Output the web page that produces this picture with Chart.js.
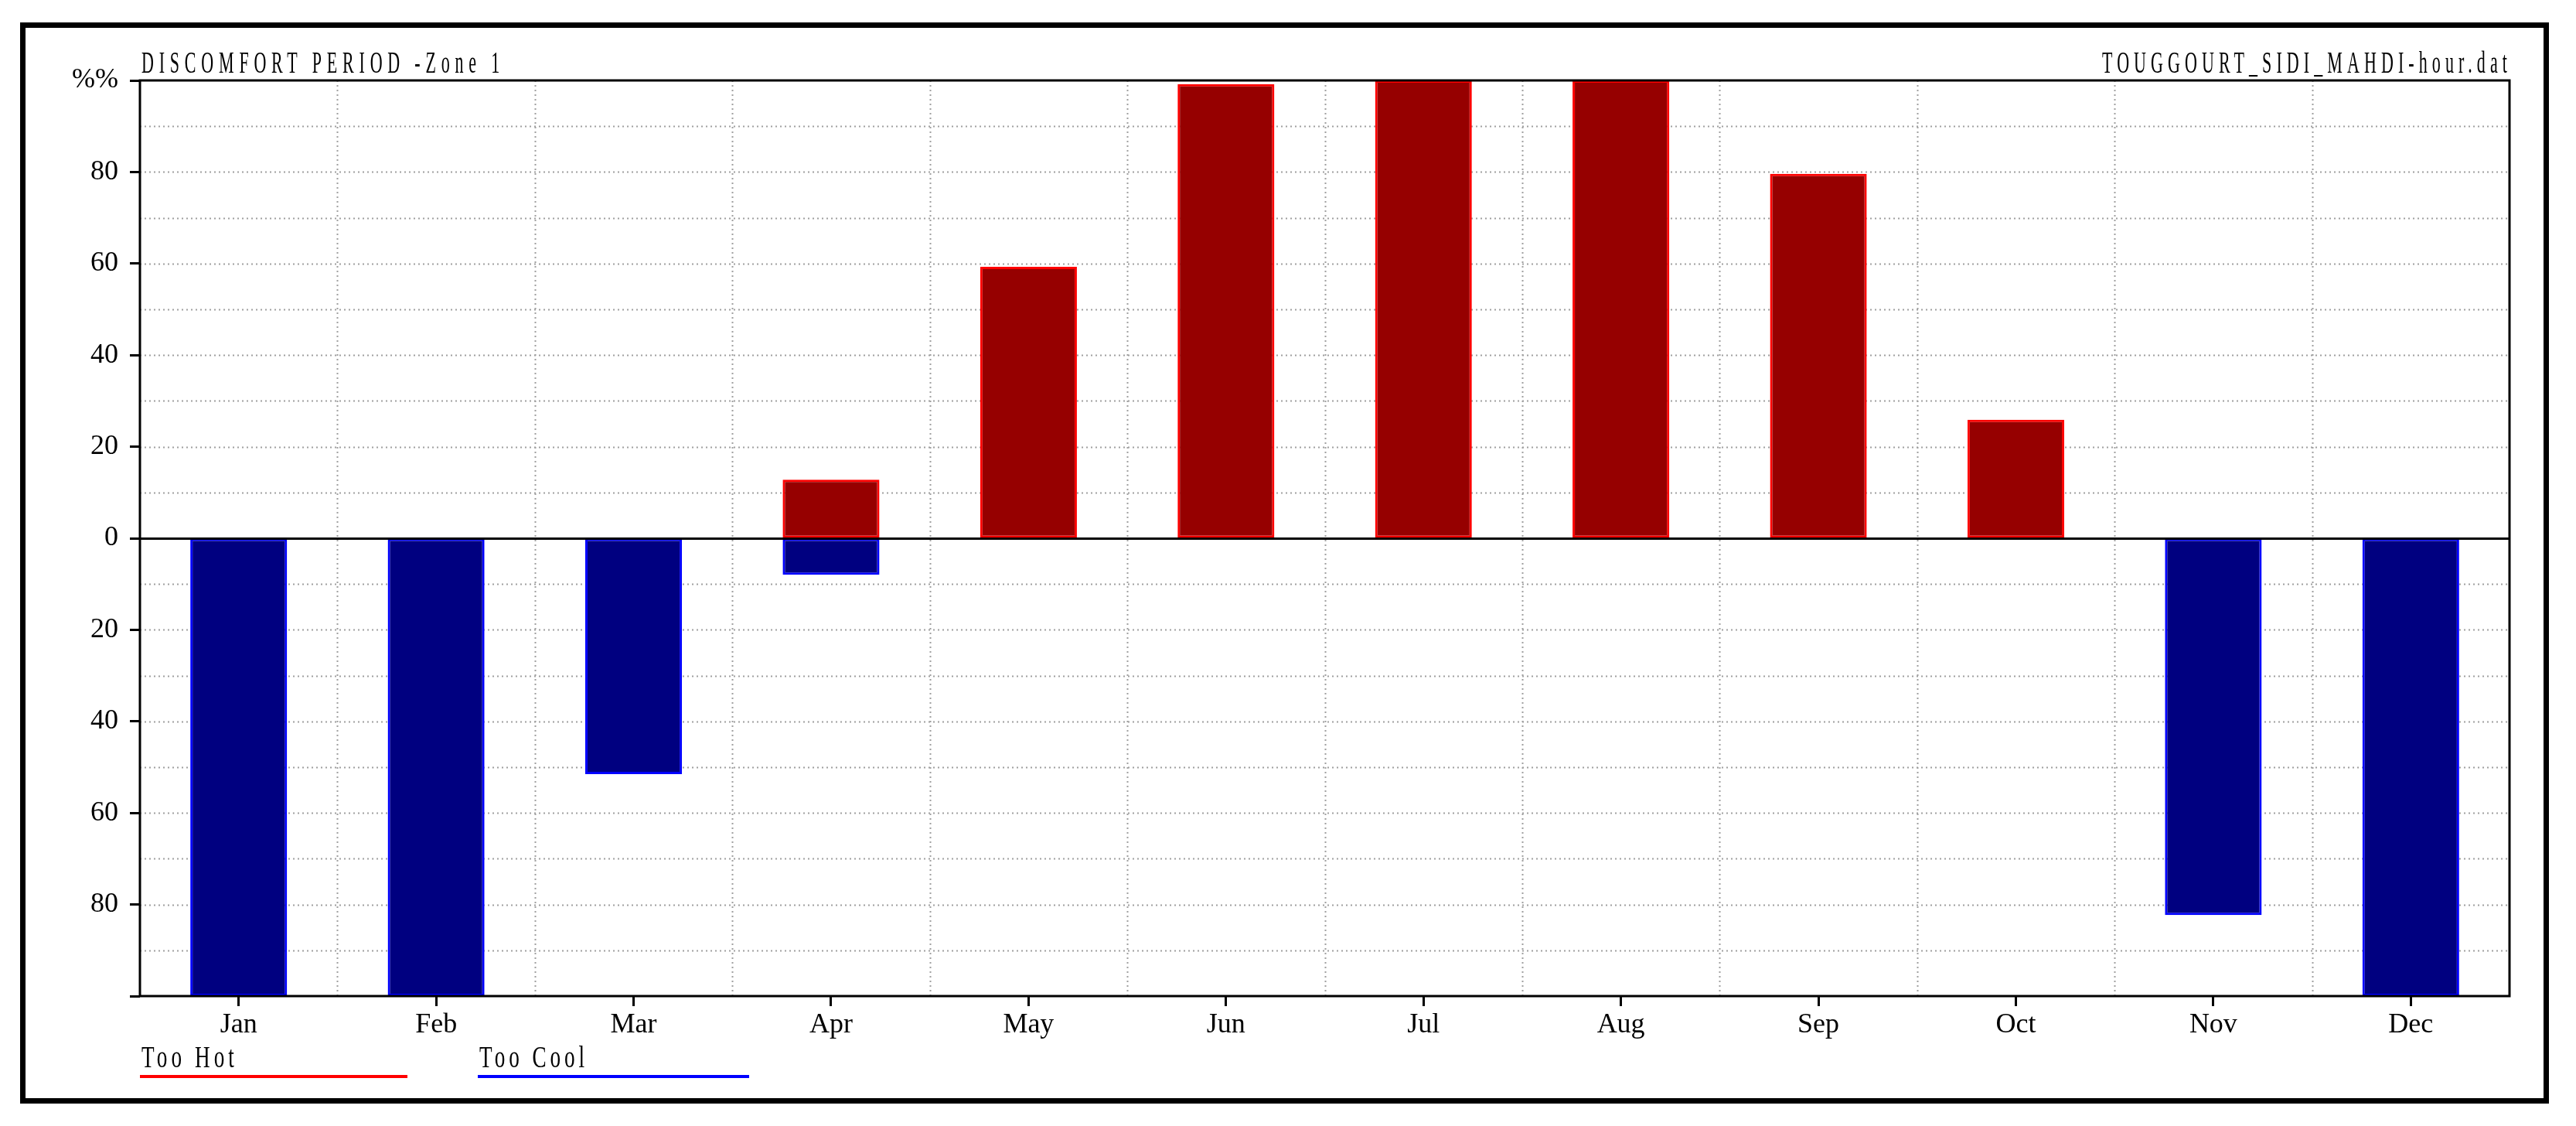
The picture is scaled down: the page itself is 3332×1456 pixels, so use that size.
<!DOCTYPE html>
<html>
<head>
<meta charset="utf-8">
<script src="https://cdn.jsdelivr.net/npm/chart.js@4/dist/chart.umd.min.js"></script>
<style>
  html, body { margin: 0; padding: 0; background: #fff; }
  canvas { display: block; }
</style>
</head>
<body>
<canvas id="c" width="3332" height="1456"></canvas>
<script>
// data (percent of hours)
const months = ['Jan','Feb','Mar','Apr','May','Jun','Jul','Aug','Sep','Oct','Nov','Dec'];
const tooHot = [null, null, null, 12.8, 59.3, 99.2, 100, 100, 79.6, 25.9, null, null];
const tooCool = [-100, -100, -51.5, -8, null, null, null, null, null, null, -82.3, -100];
const titleLeft = 'DISCOMFORT PERIOD -Zone 1';
const titleRight = 'TOUGGOURT_SIDI_MAHDI-hour.dat';

const FONT = 'Liberation Serif';

// draw condensed, spaced-out text fitted to a given width
function spacedText(ctx, text, x, y, width, size, sx, align) {
    ctx.save();
    ctx.font = size + 'px "' + FONT + '"';
    ctx.letterSpacing = '0px';
    const w0 = ctx.measureText(text).width;
    const ls = Math.max(0, (width / sx - w0) / text.length);
    ctx.letterSpacing = ls + 'px';
    ctx.fillStyle = '#000';
    ctx.textBaseline = 'alphabetic';
    ctx.textAlign = 'left';
    const x0 = align === 'right' ? x - width : x;
    ctx.translate(x0, y);
    ctx.scale(sx, 1);
    ctx.fillText(text, 0, 0);
    ctx.restore();
}

const decor = {
    id: 'decor',
    beforeDraw(chart) {
        const ctx = chart.ctx;
        ctx.save();
        ctx.fillStyle = '#fff';
        ctx.fillRect(0, 0, chart.width, chart.height);
        ctx.strokeStyle = '#000';
        ctx.lineWidth = 7;
        ctx.strokeRect(29.5, 32.5, 3264, 1391);
        ctx.restore();
    },
    beforeDatasetsDraw(chart) {
        const ctx = chart.ctx, a = chart.chartArea;
        const x = chart.scales.x, y = chart.scales.y;
        ctx.save();
        ctx.strokeStyle = '#a0a0a0';
        ctx.lineWidth = 2;
        ctx.setLineDash([2, 4]);
        for (let v = -90; v <= 90; v += 10) {
            if (v === 0) continue;
            const py = Math.round(y.getPixelForValue(v)) + 0.5;
            ctx.beginPath(); ctx.moveTo(a.left, py); ctx.lineTo(a.right, py); ctx.stroke();
        }
        for (let i = 0; i < months.length - 1; i++) {
            const px = Math.round((x.getPixelForValue(i) + x.getPixelForValue(i + 1)) / 2) + 0.5;
            ctx.beginPath(); ctx.moveTo(px, a.top); ctx.lineTo(px, a.bottom); ctx.stroke();
        }
        ctx.restore();
    },
    afterDatasetsDraw(chart) {
        const ctx = chart.ctx, a = chart.chartArea, y = chart.scales.y;
        ctx.save();
        ctx.strokeStyle = '#000';
        ctx.lineWidth = 3;
        const z = Math.round(y.getPixelForValue(0)) + 0.5;
        ctx.beginPath(); ctx.moveTo(a.left, z); ctx.lineTo(a.right, z); ctx.stroke();
        ctx.strokeRect(a.left, a.top, a.right - a.left, a.bottom - a.top);
        ctx.restore();
    },
    afterDraw(chart) {
        const ctx = chart.ctx, a = chart.chartArea;
        spacedText(ctx, titleLeft, a.left + 2, 94, 470, 40, 0.55, 'left');
        spacedText(ctx, titleRight, a.right + 3, 94, 530, 40, 0.55, 'right');
        // legend: label over a coloured line
        const legendX = [181, 618];
        const legendW = [346, 351];
        chart.data.datasets.forEach((ds, i) => {
            const lx = legendX[i];
            const tw = i === 0 ? 125 : 141;
            spacedText(ctx, ds.label, lx + 2, 1380, tw, 40, 0.68, 'left');
            ctx.save();
            ctx.strokeStyle = ds.borderColor;
            ctx.lineWidth = 4;
            ctx.beginPath(); ctx.moveTo(lx, 1392); ctx.lineTo(lx + legendW[i], 1392); ctx.stroke();
            ctx.restore();
        });
    }
};

Chart.defaults.font.family = FONT;
Chart.defaults.font.size = 36;
Chart.defaults.color = '#000';

new Chart(document.getElementById('c'), {
    type: 'bar',
    data: {
        labels: months,
        datasets: [
            { label: 'Too Hot', data: tooHot, backgroundColor: '#960000', borderColor: '#ff0000', borderWidth: 3, borderSkipped: false },
            { label: 'Too Cool', data: tooCool, backgroundColor: '#000080', borderColor: '#0000ff', borderWidth: 3, borderSkipped: false }
        ]
    },
    options: {
        responsive: false,
        devicePixelRatio: 1,
        animation: false,
        layout: { padding: { left: 0, top: 104, right: 86, bottom: 0 } },
        datasets: { bar: { barPercentage: 0.49, categoryPercentage: 1 } },
        plugins: { legend: { display: false }, tooltip: { enabled: false }, title: { display: false } },
        scales: {
            x: {
                stacked: true,
                grid: { drawOnChartArea: false, offset: false, tickLength: 13, tickWidth: 3, tickColor: '#000' },
                border: { display: false },
                ticks: { padding: 3, maxRotation: 0, autoSkip: false },
                afterFit: s => { s.height = 168; s.paddingLeft = 0; s.paddingRight = 0; }
            },
            y: {
                stacked: true,
                min: -100, max: 100,
                grid: {
                    drawOnChartArea: false, tickLength: 13, tickWidth: 3,
                    tickColor: c => (c.tick && c.tick.value % 20 === 0) ? '#000' : 'rgba(0,0,0,0)'
                },
                border: { display: false },
                ticks: {
                    stepSize: 10, padding: 15, autoSkip: false,
                    callback: v => v === 100 ? '%%' : (v === -100 || v % 20 !== 0) ? '' : String(Math.abs(v))
                },
                afterFit: s => { s.width = 181; s.paddingTop = 0; s.paddingBottom = 0; }
            }
        }
    },
    plugins: [decor]
});
</script>
</body>
</html>
